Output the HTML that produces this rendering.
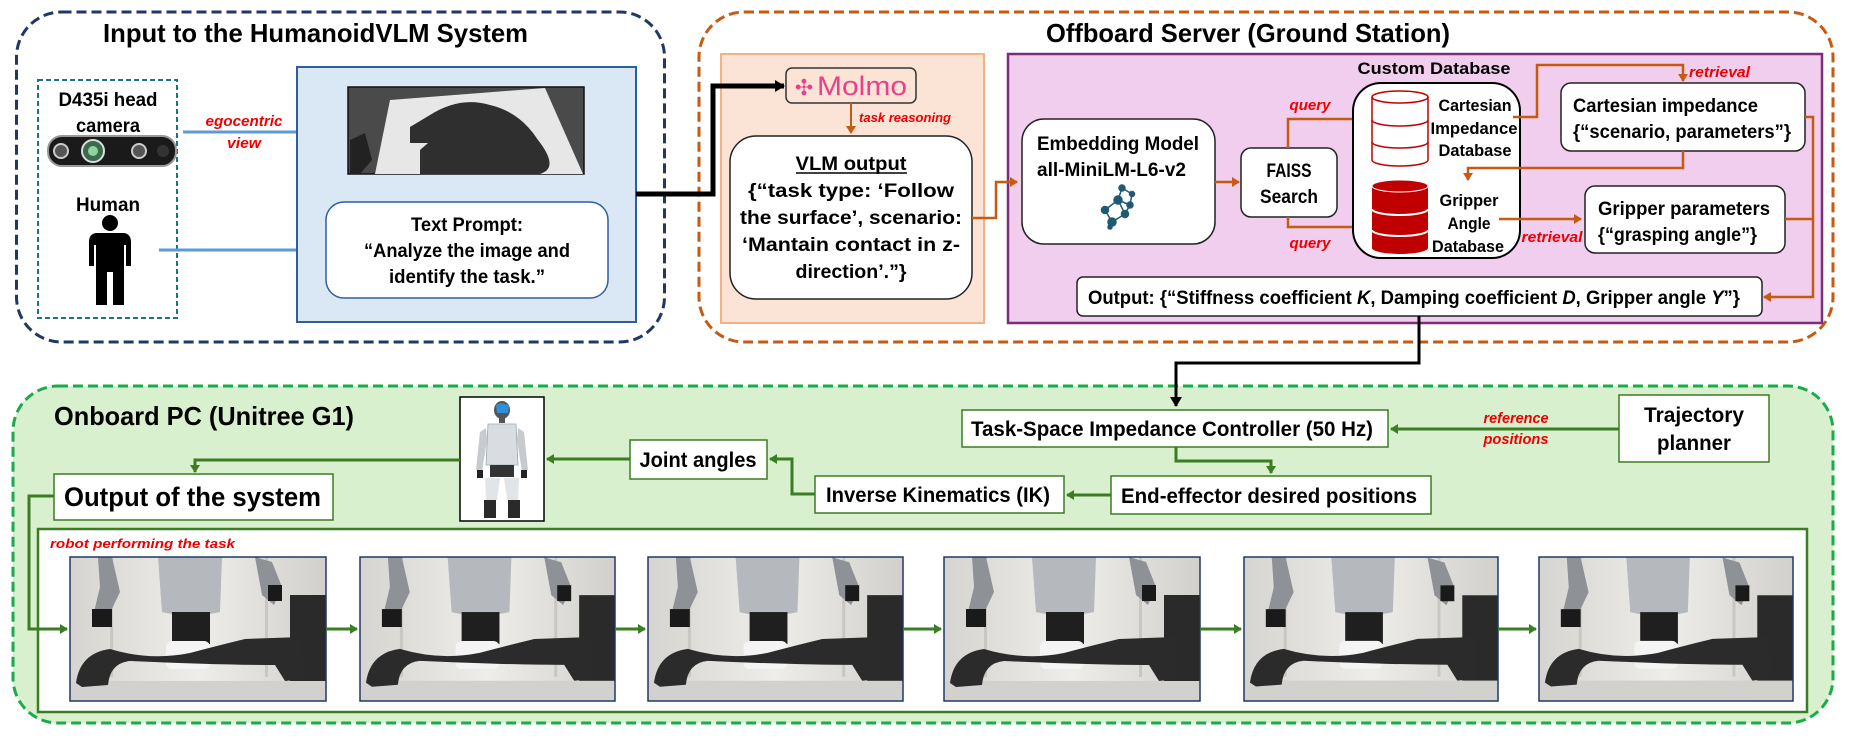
<!DOCTYPE html>
<html><head><meta charset="utf-8"><style>
html,body{margin:0;padding:0;background:#fff;}
svg{display:block;}
text{font-family:"Liberation Sans Narrow","Liberation Sans",sans-serif;}
</style></head><body>
<svg width="1850" height="738" viewBox="0 0 1850 738" xmlns="http://www.w3.org/2000/svg">
<defs>
<marker id="ab" markerWidth="8" markerHeight="8" refX="6" refY="4" orient="auto" markerUnits="userSpaceOnUse"><path d="M0,0 L7,4 L0,8 z" fill="#5b9bd5"/></marker>
<marker id="ak" markerWidth="12" markerHeight="12" refX="9" refY="6" orient="auto" markerUnits="userSpaceOnUse"><path d="M0,0 L10,6 L0,12 z" fill="#000"/></marker>
<marker id="ao" markerWidth="10" markerHeight="10" refX="7" refY="5" orient="auto" markerUnits="userSpaceOnUse"><path d="M0,0 L8,5 L0,10 z" fill="#c55a11"/></marker>
<marker id="ag" markerWidth="10" markerHeight="10" refX="7" refY="5" orient="auto" markerUnits="userSpaceOnUse"><path d="M0,0 L8,5 L0,10 z" fill="#3a7d22"/></marker>
<linearGradient id="wall" x1="0" y1="0" x2="1" y2="0"><stop offset="0" stop-color="#d6d4d0"/><stop offset="0.5" stop-color="#eeede9"/><stop offset="1" stop-color="#d2d0cc"/></linearGradient>
<symbol id="photo" viewBox="0 0 256 144">
<rect width="256" height="144" fill="url(#wall)"/>
<rect x="40" y="0" width="3" height="120" fill="#c9c7c3"/>
<rect x="195" y="0" width="3" height="120" fill="#c9c7c3"/>
<rect x="220" y="38" width="36" height="92" fill="#2a2a2a"/>
<path d="M88,0 L152,0 L150,55 Q120,62 92,55 z" fill="#b5b8bc"/>
<rect x="102" y="55" width="38" height="32" fill="#1f1f1f"/>
<rect x="96" y="84" width="44" height="28" rx="6" fill="#f4f4f4"/>
<path d="M28,0 L42,0 L50,35 L38,60 L24,55 L30,30 z" fill="#8e9196"/>
<rect x="22" y="52" width="20" height="18" fill="#1a1a1a"/>
<path d="M185,0 L202,5 L212,30 L204,48 L192,38 z" fill="#8e9196"/>
<rect x="198" y="28" width="14" height="16" fill="#1a1a1a"/>
<rect x="0" y="124" width="256" height="20" fill="#d2d1ce"/>
<path d="M6,126 Q10,96 40,92 Q80,104 120,96 Q150,88 175,82 L232,80 L234,122 L215,124 L205,108 Q150,108 60,104 Q40,106 38,128 L12,130 z" fill="#2b2b2b"/>
</symbol>
</defs>

<!-- INPUT SECTION -->
<rect x="16.5" y="12" width="648" height="330" rx="45" fill="#fff" stroke="#1f3864" stroke-width="3" stroke-dasharray="10,5"/>
<text x="103" y="42" font-size="26" font-weight="bold" textLength="425" lengthAdjust="spacingAndGlyphs">Input to the HumanoidVLM System</text>
<rect x="38" y="80" width="139" height="238" fill="#fff" stroke="#1f6f8f" stroke-width="2" stroke-dasharray="5,3"/>
<text x="108" y="106" font-size="19" font-weight="bold" text-anchor="middle" textLength="99" lengthAdjust="spacingAndGlyphs">D435i head</text>
<text x="108" y="132" font-size="19" font-weight="bold" text-anchor="middle" textLength="64" lengthAdjust="spacingAndGlyphs">camera</text>
<rect x="48" y="136" width="128" height="30" rx="14" fill="#1a1a1a" stroke="#999" stroke-width="2"/>
<circle cx="61" cy="151" r="7" fill="#555" stroke="#ccc" stroke-width="2"/>
<circle cx="93" cy="151" r="11" fill="#3a6b4a" stroke="#ddd" stroke-width="2"/>
<circle cx="93" cy="151" r="5" fill="#8fd39f"/>
<circle cx="139" cy="151" r="7" fill="#555" stroke="#ccc" stroke-width="2"/>
<circle cx="163" cy="151" r="6" fill="#333"/>
<text x="108" y="211" font-size="19" font-weight="bold" text-anchor="middle" textLength="64" lengthAdjust="spacingAndGlyphs">Human</text>
<circle cx="110" cy="223" r="8" fill="#000"/>
<path d="M96,233 L124,233 Q131,234 131,242 L131,266 L126,266 L126,245 L124,245 L124,305 L113,305 L113,272 L107,272 L107,305 L96,305 L96,245 L94,245 L94,266 L89,266 L89,242 Q89,234 96,233 z" fill="#000"/>
<line x1="183" y1="132" x2="346" y2="132" stroke="#5b9bd5" stroke-width="3" marker-end="url(#ab)"/>
<text x="244" y="126" font-size="15" font-weight="bold" font-style="italic" fill="#e00" text-anchor="middle" textLength="77" lengthAdjust="spacingAndGlyphs">egocentric</text>
<text x="244" y="148" font-size="15" font-weight="bold" font-style="italic" fill="#e00" text-anchor="middle" textLength="34" lengthAdjust="spacingAndGlyphs">view</text>
<line x1="159" y1="250" x2="322" y2="250" stroke="#5b9bd5" stroke-width="3" marker-end="url(#ab)"/>
<rect x="297" y="67" width="339" height="255" fill="#dae7f4" stroke="#2e5e9e" stroke-width="2"/>
<rect x="348" y="87" width="236" height="87" fill="#4a4a4a" stroke="#111" stroke-width="1.5"/>
<path d="M390,100 L545,88 L583,174 L375,174 z" fill="#e7e7e7"/>
<path d="M410,127 L430,115 Q460,96 490,105 Q520,112 538,140 Q560,168 540,174 L420,174 L420,150 L428,143 L410,143 z" fill="#2f2f2f"/>
<path d="M350,140 L365,133 L372,160 L360,174 L350,174 z" fill="#222"/>
<rect x="326" y="202" width="282" height="96" rx="18" fill="#fff" stroke="#2e5e9e" stroke-width="1.5"/>
<text x="467" y="231" font-size="19" font-weight="bold" text-anchor="middle" textLength="112" lengthAdjust="spacingAndGlyphs">Text Prompt:</text>
<text x="467" y="257" font-size="19" font-weight="bold" text-anchor="middle" textLength="206" lengthAdjust="spacingAndGlyphs">“Analyze the image and</text>
<text x="467" y="283" font-size="19" font-weight="bold" text-anchor="middle" textLength="156" lengthAdjust="spacingAndGlyphs">identify the task.”</text>

<!-- OFFBOARD SECTION -->
<rect x="699" y="12" width="1134" height="330" rx="45" fill="#fff" stroke="#c55a11" stroke-width="3" stroke-dasharray="10,5"/>
<polyline points="636,194 713,194 713,86 784,86" fill="none" stroke="#000" stroke-width="5" marker-end="url(#ak)"/>
<text x="1046" y="42" font-size="26" font-weight="bold" textLength="404" lengthAdjust="spacingAndGlyphs">Offboard Server (Ground Station)</text>
<rect x="721" y="54" width="263" height="269" fill="#fbe3d6" stroke="#f4b183" stroke-width="2"/>
<polyline points="713,86 784,86" fill="none" stroke="#000" stroke-width="5" marker-end="url(#ak)"/>
<rect x="786" y="68" width="130" height="35" rx="6" fill="#fbe3d6" stroke="#333" stroke-width="1.5"/>
<text x="804" y="95" font-size="22" fill="#e8408a" text-anchor="middle">✣</text>
<text x="817" y="95" font-size="27" fill="#e8408a" textLength="90" lengthAdjust="spacingAndGlyphs">Molmo</text>
<line x1="851" y1="103" x2="851" y2="133" stroke="#c55a11" stroke-width="2" marker-end="url(#ao)"/>
<text x="859" y="122" font-size="13" font-weight="bold" font-style="italic" fill="#e00" textLength="92" lengthAdjust="spacingAndGlyphs">task reasoning</text>
<rect x="730" y="136" width="242" height="163" rx="26" fill="#fff" stroke="#222" stroke-width="1.5"/>
<text x="851" y="170" font-size="19" font-weight="bold" text-anchor="middle" textLength="111" lengthAdjust="spacingAndGlyphs">VLM output</text>
<line x1="796" y1="173" x2="907" y2="173" stroke="#000" stroke-width="1.5"/>
<text x="851" y="197" font-size="19" font-weight="bold" text-anchor="middle" textLength="206" lengthAdjust="spacingAndGlyphs">{“task type: ‘Follow</text>
<text x="851" y="224" font-size="19" font-weight="bold" text-anchor="middle" textLength="222" lengthAdjust="spacingAndGlyphs">the surface’, scenario:</text>
<text x="851" y="251" font-size="19" font-weight="bold" text-anchor="middle" textLength="218" lengthAdjust="spacingAndGlyphs">‘Mantain contact in z-</text>
<text x="851" y="278" font-size="19" font-weight="bold" text-anchor="middle" textLength="111" lengthAdjust="spacingAndGlyphs">direction’.”}</text>
<rect x="1008" y="54" width="814" height="269" fill="#f1cdee" stroke="#7b2c7b" stroke-width="2.5"/>
<polyline points="972,218 996,218 996,182 1017,182" fill="none" stroke="#c55a11" stroke-width="2.5" marker-end="url(#ao)"/>
<rect x="1022" y="119" width="193" height="125" rx="22" fill="#fff" stroke="#222" stroke-width="1.5"/>
<text x="1037" y="150" font-size="19" font-weight="bold" textLength="162" lengthAdjust="spacingAndGlyphs">Embedding Model</text>
<text x="1037" y="176" font-size="19" font-weight="bold" textLength="149" lengthAdjust="spacingAndGlyphs">all-MiniLM-L6-v2</text>
<g stroke="#1f5a73" stroke-width="1.5" fill="#1f5a73">
<line x1="1105" y1="210" x2="1118" y2="200"/><line x1="1118" y1="200" x2="1130" y2="205"/><line x1="1118" y1="200" x2="1122" y2="188"/><line x1="1122" y1="188" x2="1132" y2="194"/><line x1="1132" y1="194" x2="1130" y2="205"/><line x1="1105" y1="210" x2="1112" y2="222"/><line x1="1112" y1="222" x2="1125" y2="214"/><line x1="1125" y1="214" x2="1130" y2="205"/><line x1="1118" y1="200" x2="1125" y2="214"/><line x1="1112" y1="222" x2="1110" y2="227"/>
<circle cx="1105" cy="210" r="3.5"/><circle cx="1118" cy="200" r="4"/><circle cx="1130" cy="205" r="3"/><circle cx="1122" cy="188" r="3"/><circle cx="1132" cy="194" r="2.5"/><circle cx="1112" cy="222" r="4"/><circle cx="1125" cy="214" r="3.5"/><circle cx="1110" cy="227" r="2"/>
</g>
<line x1="1215" y1="182" x2="1239" y2="182" stroke="#c55a11" stroke-width="2.5" marker-end="url(#ao)"/>
<rect x="1241" y="148" width="96" height="69" rx="10" fill="#fff" stroke="#222" stroke-width="1.5"/>
<text x="1289" y="177" font-size="19" font-weight="bold" text-anchor="middle" textLength="45" lengthAdjust="spacingAndGlyphs">FAISS</text>
<text x="1289" y="203" font-size="19" font-weight="bold" text-anchor="middle" textLength="58" lengthAdjust="spacingAndGlyphs">Search</text>
<polyline points="1288,148 1288,119 1365,119" fill="none" stroke="#c55a11" stroke-width="2.5" marker-end="url(#ao)"/>
<polyline points="1288,217 1288,227 1365,227" fill="none" stroke="#c55a11" stroke-width="2.5" marker-end="url(#ao)"/>
<text x="1310" y="110" font-size="15" font-weight="bold" font-style="italic" fill="#e00" text-anchor="middle" textLength="41" lengthAdjust="spacingAndGlyphs">query</text>
<text x="1310" y="248" font-size="15" font-weight="bold" font-style="italic" fill="#e00" text-anchor="middle" textLength="41" lengthAdjust="spacingAndGlyphs">query</text>
<text x="1434" y="74" font-size="17" font-weight="bold" text-anchor="middle" textLength="153" lengthAdjust="spacingAndGlyphs">Custom Database</text>
<rect x="1353" y="83" width="167" height="175" rx="28" fill="#fff" stroke="#000" stroke-width="2"/>
<g fill="#fff" stroke="#c00000" stroke-width="1.5">
<path d="M1372,97 L1372,160 A28,6 0 0 0 1428,160 L1428,97"/>
<ellipse cx="1400" cy="97" rx="28" ry="6"/>
<path d="M1372,120 A28,6 0 0 0 1428,120" fill="none"/>
<path d="M1372,142 A28,6 0 0 0 1428,142" fill="none"/>
</g>
<g fill="#c00000">
<path d="M1372,186 L1372,248 A28,6 0 0 0 1428,248 L1428,186 z"/>
<ellipse cx="1400" cy="186" rx="28" ry="6"/>
</g>
<ellipse cx="1400" cy="186" rx="28" ry="6" fill="none" stroke="#fff" stroke-width="1"/>
<path d="M1372,209 A28,6 0 0 0 1428,209" fill="none" stroke="#fff" stroke-width="2"/>
<path d="M1372,230 A28,6 0 0 0 1428,230" fill="none" stroke="#fff" stroke-width="2"/>
<text x="1475" y="111" font-size="17" font-weight="bold" text-anchor="middle" textLength="73" lengthAdjust="spacingAndGlyphs">Cartesian</text>
<text x="1474" y="134" font-size="17" font-weight="bold" text-anchor="middle" textLength="87" lengthAdjust="spacingAndGlyphs">Impedance</text>
<text x="1475" y="156" font-size="17" font-weight="bold" text-anchor="middle" textLength="73" lengthAdjust="spacingAndGlyphs">Database</text>
<text x="1469" y="206" font-size="17" font-weight="bold" text-anchor="middle" textLength="59" lengthAdjust="spacingAndGlyphs">Gripper</text>
<text x="1469" y="229" font-size="17" font-weight="bold" text-anchor="middle" textLength="43" lengthAdjust="spacingAndGlyphs">Angle</text>
<text x="1468" y="252" font-size="17" font-weight="bold" text-anchor="middle" textLength="72" lengthAdjust="spacingAndGlyphs">Database</text>
<polyline points="1513,117 1537,117 1537,65 1683,65 1683,81" fill="none" stroke="#c55a11" stroke-width="2.5" marker-end="url(#ao)"/>
<text x="1689" y="77" font-size="15" font-weight="bold" font-style="italic" fill="#e00" textLength="61" lengthAdjust="spacingAndGlyphs">retrieval</text>
<rect x="1561" y="83" width="244" height="68" rx="10" fill="#fff" stroke="#222" stroke-width="1.5"/>
<text x="1573" y="112" font-size="19" font-weight="bold" textLength="185" lengthAdjust="spacingAndGlyphs">Cartesian impedance</text>
<text x="1573" y="138" font-size="19" font-weight="bold" textLength="218" lengthAdjust="spacingAndGlyphs">{“scenario, parameters”}</text>
<polyline points="1683,151 1683,168 1468,168 1468,180" fill="none" stroke="#c55a11" stroke-width="2.5" marker-end="url(#ao)"/>
<line x1="1499" y1="219" x2="1581" y2="219" stroke="#c55a11" stroke-width="2.5" marker-end="url(#ao)"/>
<text x="1552" y="242" font-size="15" font-weight="bold" font-style="italic" fill="#e00" text-anchor="middle" textLength="61" lengthAdjust="spacingAndGlyphs">retrieval</text>
<rect x="1585" y="186" width="200" height="67" rx="10" fill="#fff" stroke="#222" stroke-width="1.5"/>
<text x="1598" y="215" font-size="19" font-weight="bold" textLength="172" lengthAdjust="spacingAndGlyphs">Gripper parameters</text>
<text x="1598" y="241" font-size="19" font-weight="bold" textLength="159" lengthAdjust="spacingAndGlyphs">{“grasping angle”}</text>
<polyline points="1805,117 1813,117 1813,297 1764,297" fill="none" stroke="#c55a11" stroke-width="2.5" marker-end="url(#ao)"/>
<line x1="1785" y1="219" x2="1813" y2="219" stroke="#c55a11" stroke-width="2.5"/>
<rect x="1077" y="277" width="685" height="39" rx="6" fill="#fff" stroke="#222" stroke-width="1.5"/>
<text x="1088" y="304" font-size="19" font-weight="bold" textLength="652" lengthAdjust="spacingAndGlyphs">Output: {“Stiffness coefficient <tspan font-style="italic">K</tspan>, Damping coefficient <tspan font-style="italic">D</tspan>, Gripper angle <tspan font-style="italic">Υ</tspan>”}</text>
<polyline points="1419,316 1419,363 1176,363 1176,406" fill="none" stroke="#000" stroke-width="3" marker-end="url(#ak)"/>

<!-- ONBOARD SECTION -->
<rect x="13" y="386" width="1820" height="337" rx="45" fill="#d9f0cf" stroke="#1aab4b" stroke-width="3" stroke-dasharray="10,5"/>
<polyline points="1176,363 1176,406" fill="none" stroke="#000" stroke-width="3" marker-end="url(#ak)"/>
<text x="54" y="425" font-size="26" font-weight="bold" textLength="300" lengthAdjust="spacingAndGlyphs">Onboard PC (Unitree G1)</text>
<rect x="460" y="397" width="84" height="124" fill="#fff" stroke="#000" stroke-width="1.5"/>
<g>
<ellipse cx="502" cy="410" rx="8" ry="9" fill="#555"/>
<path d="M496,405 Q502,401 509,406 L508,413 L497,413 z" fill="#2f8fd8"/>
<rect x="499" y="418" width="6" height="5" fill="#555"/>
<path d="M488,424 L516,424 L518,465 L486,465 z" fill="#d9dde2" stroke="#9aa" stroke-width="0.8"/>
<path d="M486,428 L480,432 L476,470 L482,472 L487,440 z" fill="#c7cbd0"/>
<path d="M518,428 L524,432 L528,470 L522,472 L517,440 z" fill="#c7cbd0"/>
<rect x="477" y="470" width="6" height="8" fill="#222"/><rect x="521" y="470" width="6" height="8" fill="#222"/>
<rect x="490" y="465" width="24" height="12" fill="#333"/>
<path d="M485,478 L500,478 L497,500 L486,500 z" fill="#e2e5e8"/>
<path d="M504,478 L519,478 L518,500 L507,500 z" fill="#e2e5e8"/>
<rect x="484" y="500" width="12" height="18" fill="#2a2a2a"/><rect x="508" y="500" width="12" height="18" fill="#2a2a2a"/>
</g>
<rect x="630" y="440" width="137" height="39" fill="#fff" stroke="#3a7d22" stroke-width="1.5"/>
<text x="698" y="467" font-size="21" font-weight="bold" text-anchor="middle" textLength="117" lengthAdjust="spacingAndGlyphs">Joint angles</text>
<line x1="630" y1="459" x2="547" y2="459" stroke="#3a7d22" stroke-width="3" marker-end="url(#ag)"/>
<polyline points="460,460 195,460 195,472" fill="none" stroke="#3a7d22" stroke-width="3" marker-end="url(#ag)"/>
<rect x="54" y="474" width="279" height="46" fill="#fff" stroke="#3a7d22" stroke-width="1.5"/>
<text x="64" y="506" font-size="27" font-weight="bold" textLength="257" lengthAdjust="spacingAndGlyphs">Output of the system</text>
<rect x="815" y="476" width="249" height="37" fill="#fff" stroke="#3a7d22" stroke-width="1.5"/>
<text x="826" y="502" font-size="21" font-weight="bold" textLength="224" lengthAdjust="spacingAndGlyphs">Inverse Kinematics (IK)</text>
<polyline points="815,494 792,494 792,459 770,459" fill="none" stroke="#3a7d22" stroke-width="3" marker-end="url(#ag)"/>
<rect x="962" y="410" width="426" height="37" fill="#fff" stroke="#3a7d22" stroke-width="1.5"/>
<text x="971" y="436" font-size="21" font-weight="bold" textLength="402" lengthAdjust="spacingAndGlyphs">Task-Space Impedance Controller (50 Hz)</text>
<rect x="1619" y="395" width="150" height="67" fill="#fff" stroke="#3a7d22" stroke-width="1.5"/>
<text x="1694" y="422" font-size="21" font-weight="bold" text-anchor="middle" textLength="100" lengthAdjust="spacingAndGlyphs">Trajectory</text>
<text x="1694" y="450" font-size="21" font-weight="bold" text-anchor="middle" textLength="74" lengthAdjust="spacingAndGlyphs">planner</text>
<line x1="1619" y1="429" x2="1391" y2="429" stroke="#3a7d22" stroke-width="3" marker-end="url(#ag)"/>
<text x="1516" y="423" font-size="15" font-weight="bold" font-style="italic" fill="#e00" text-anchor="middle" textLength="65" lengthAdjust="spacingAndGlyphs">reference</text>
<text x="1516" y="444" font-size="15" font-weight="bold" font-style="italic" fill="#e00" text-anchor="middle" textLength="65" lengthAdjust="spacingAndGlyphs">positions</text>
<polyline points="1176,447 1176,461 1271,461 1271,473" fill="none" stroke="#3a7d22" stroke-width="3" marker-end="url(#ag)"/>
<rect x="1111" y="476" width="320" height="38" fill="#fff" stroke="#3a7d22" stroke-width="1.5"/>
<text x="1121" y="503" font-size="21" font-weight="bold" textLength="296" lengthAdjust="spacingAndGlyphs">End-effector desired positions</text>
<line x1="1111" y1="495" x2="1067" y2="495" stroke="#3a7d22" stroke-width="3" marker-end="url(#ag)"/>

<rect x="38" y="529" width="1769" height="183" fill="#fff" stroke="#3a7d22" stroke-width="2.5"/>
<text x="50" y="548" font-size="13" font-weight="bold" font-style="italic" fill="#e00" textLength="185" lengthAdjust="spacingAndGlyphs">robot performing the task</text>
<polyline points="54,496 29,496 29,629 67,629" fill="none" stroke="#3a7d22" stroke-width="3" marker-end="url(#ag)"/>
<use href="#photo" x="70" y="557" width="256" height="144"/>
<use href="#photo" x="360" y="557" width="255" height="144"/>
<use href="#photo" x="648" y="557" width="255" height="144"/>
<use href="#photo" x="944" y="557" width="256" height="144"/>
<use href="#photo" x="1244" y="557" width="254" height="144"/>
<use href="#photo" x="1539" y="557" width="254" height="144"/>
<g stroke="#1f3864" stroke-width="1.5" fill="none">
<rect x="70" y="557" width="256" height="144"/>
<rect x="360" y="557" width="255" height="144"/>
<rect x="648" y="557" width="255" height="144"/>
<rect x="944" y="557" width="256" height="144"/>
<rect x="1244" y="557" width="254" height="144"/>
<rect x="1539" y="557" width="254" height="144"/>
</g>
<g stroke="#3a7d22" stroke-width="3">
<line x1="326" y1="629" x2="357" y2="629" marker-end="url(#ag)"/>
<line x1="615" y1="629" x2="645" y2="629" marker-end="url(#ag)"/>
<line x1="903" y1="629" x2="941" y2="629" marker-end="url(#ag)"/>
<line x1="1200" y1="629" x2="1241" y2="629" marker-end="url(#ag)"/>
<line x1="1498" y1="629" x2="1536" y2="629" marker-end="url(#ag)"/>
</g>
</svg>
</body></html>
